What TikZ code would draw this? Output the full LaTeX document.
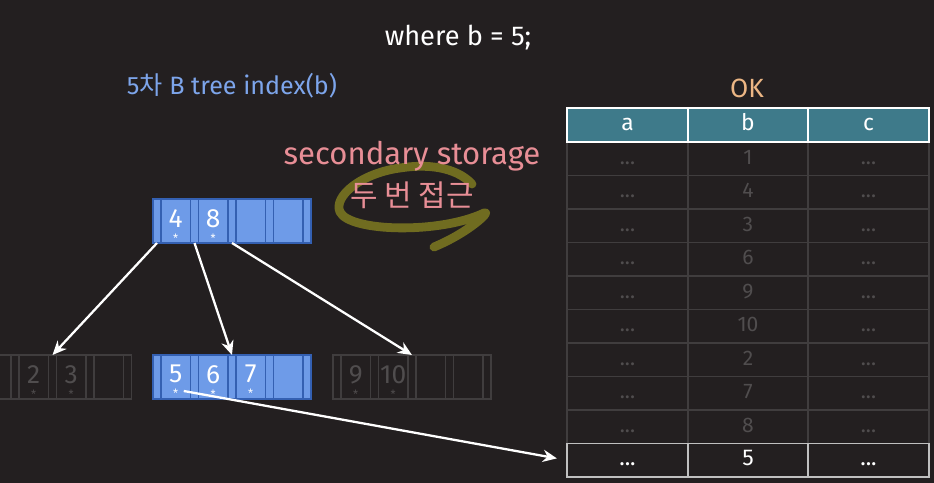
\documentclass[tikz,border=0pt]{standalone}
\usepackage{fontspec}
\setmainfont{Fira Sans}
\newfontfamily\kr{Noto Sans CJK KR}
\usetikzlibrary{arrows.meta}
\definecolor{slidebg}{RGB}{35,31,32}
\definecolor{nodefill}{RGB}{110,155,232}
\definecolor{nodeedge}{RGB}{52,96,178}
\definecolor{titleblue}{RGB}{125,165,235}
\definecolor{okorange}{RGB}{236,182,132}
\definecolor{notepink}{RGB}{232,142,150}
\definecolor{scribble}{RGB}{112,108,32}
\definecolor{headteal}{RGB}{62,122,138}
\definecolor{fadedline}{RGB}{64,61,62}
\definecolor{fadedtext}{RGB}{80,77,78}
\definecolor{lastedge}{RGB}{192,192,192}
\newdimen\px \px=0.02cm
\newcommand{\bnode}[4]{%
  \node[#3ptrbox, anchor=west] (#1-p0) at (#2) {};
  \foreach \k [count=\i] in {#4} {
    \pgfmathtruncatemacro{\j}{\i-1}
    \node[#3keybox, anchor=west] (#1-k\i) at (#1-p\j.east) {};
    \if\relax\detokenize\expandafter{\k}\relax\else
      \node[#3keytext] (#1-n\i) at (#1-k\i.north) {\k\\[-7.5pt]{\fontsize{6.5}{7}\selectfont *}};
    \fi
    \node[#3ptrbox, anchor=west] (#1-p\i) at (#1-k\i.east) {};
  }%
}
\tikzset{
  slot/.style={inner sep=0pt, outer sep=0pt, minimum height=44\px, line width=1pt},
  ptrbox/.style={slot, draw=nodeedge, fill=nodefill, minimum width=8\px},
  keybox/.style={slot, draw=nodeedge, fill=nodefill, minimum width=29.5\px},
  fadedptrbox/.style={slot, draw=fadedline, minimum width=8\px},
  fadedkeybox/.style={slot, draw=fadedline, minimum width=29.5\px},
  keytext/.style={anchor=north, yshift=-10\px, inner sep=0pt, align=center, text=white, font=\fontsize{15}{16}\selectfont},
  fadedkeytext/.style={keytext, text=fadedtext},
  cell/.style={inner sep=0pt, outer sep=0pt, minimum width=120.5\px, minimum height=33.5\px, text height=1.6ex, text depth=.4ex},
  fadedcell/.style={cell, draw=fadedline, line width=1pt, text=fadedtext, font=\fontsize{12}{13}\selectfont},
  headcell/.style={cell, minimum height=34\px, draw=white, fill=headteal, line width=1pt, text=white, font=\fontsize{13}{14}\selectfont},
  lastcell/.style={cell, draw=lastedge, line width=1pt, text=white, font=\fontsize{13}{14}\selectfont},
  ptrarrow/.style={-{Stealth[length=8pt,width=7pt]}, white, line width=1.3pt}
}
\begin{document}
\begin{tikzpicture}[x=\px, y=-\px]
  \useasboundingbox (0,0) rectangle (934,483);
  \fill[slidebg] (0,0) rectangle (934,483);
  \clip (0,0) rectangle (934,483);

  \node[text=white, font=\fontsize{15.5}{17}\selectfont] (where) at (458,38) {where b = 5;};
  \node[text=titleblue, font=\fontsize{14.3}{16}\selectfont] (title) at (232,86) {5{\kr 차} B tree index(b)};
  \node[text=okorange, font=\fontsize{15}{17}\selectfont] (ok) at (747,88) {OK};

  % note
  \draw[scribble, line width=5pt, line cap=round, line join=round]
    (472,184) .. controls (455,166) and (425,164) .. (400,168)
    .. controls (362,173) and (333,196) .. (340,212)
    .. controls (350,232) and (440,234) .. (484,213)
    .. controls (492,210) and (470,232) .. (434,247);
  \node[text=notepink, font=\fontsize{17.7}{19}\selectfont] (storage) at (412,156) {secondary storage};
  \node[text=notepink, font=\kr\fontsize{17}{19}\selectfont] (twice) at (412,195) {두 번 접근};

  % b tree
  \bnode{root}{153,221}{}{4,8,{},{}}
  \bnode{left}{-26.5,377}{faded}{{},2,3,{}}
  \bnode{mid}{153,377}{}{5,6,7,{}}
  \bnode{right}{333,377}{faded}{9,10,{},{}}

  \draw [ptrarrow] (root-p0.south) -- (left-p2.north);
  \draw [ptrarrow] (root-p1.south) -- (mid-p2.north);
  \draw [ptrarrow] (root-p2.south) -- (right-p2.north);

  % table
  \foreach \b [count=\r] in {1,4,3,6,9,10,2,7,8} {
    \node[fadedcell] (row\r-a) at (627.5,{142+33.5*(\r-0.5)}) {...};
    \node[fadedcell] (row\r-b) at (748,{142+33.5*(\r-0.5)}) {\b};
    \node[fadedcell] (row\r-c) at (868.5,{142+33.5*(\r-0.5)}) {...};
  }
  \node[headcell] (head-a) at (627.5,125) {a};
  \node[headcell] (head-b) at (748,125) {b};
  \node[headcell] (head-c) at (868.5,125) {c};
  \node[lastcell] (row10-a) at (627.5,460.25) {...};
  \node[lastcell] (row10-b) at (748,460.25) {5};
  \node[lastcell] (row10-c) at (868.5,460.25) {...};

  \draw [ptrarrow, shorten >=6pt] ([shift={(8,-8)}]mid-k1.south) -- (row10-a.west);
\end{tikzpicture}
\end{document}
